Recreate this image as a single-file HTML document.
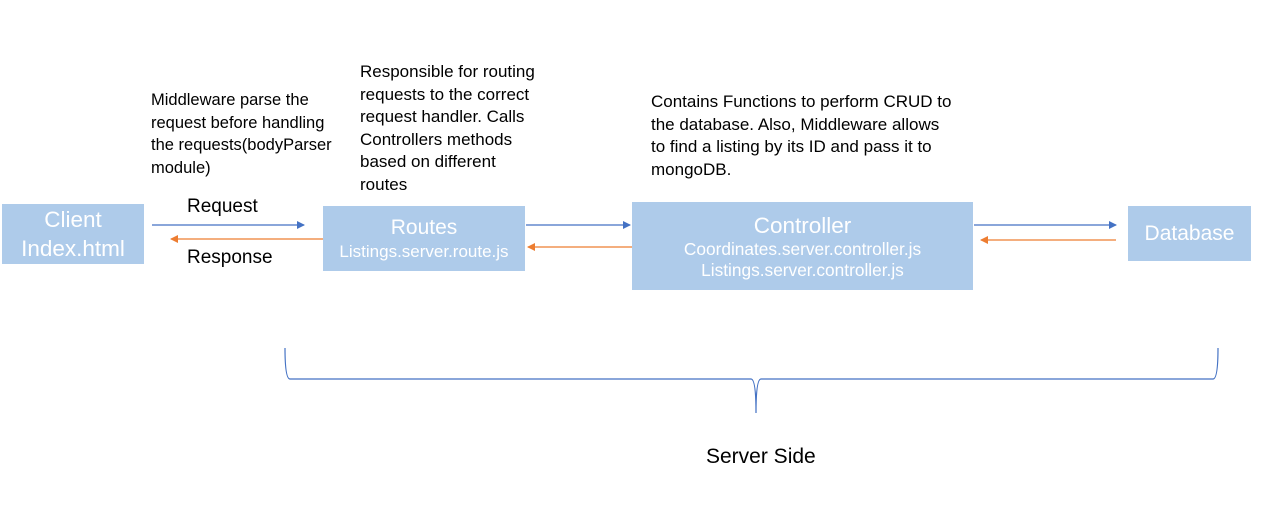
<!DOCTYPE html>
<html><head><meta charset="utf-8"><style>
body{margin:0;width:1271px;height:530px;background:#fff;position:relative;overflow:hidden;font-family:"Liberation Sans",Calibri,sans-serif}
.b{position:absolute;background:#aecbea;color:#fff;text-align:center;display:flex;flex-direction:column;justify-content:center;white-space:nowrap}
.t{position:absolute;color:#000;font-size:17px;line-height:22.5px;white-space:nowrap}
svg{position:absolute;left:0;top:0}
</style></head><body>
<div class="b" style="left:2px;top:204px;width:142px;height:60px;font-size:22.5px;line-height:29px">Client<br>Index.html</div>
<div class="b" style="left:323px;top:206px;width:202px;height:65px;"><div style="font-size:21px;line-height:26px">Routes</div><div style="font-size:17px;line-height:22px">Listings.server.route.js</div></div>
<div class="b" style="left:632px;top:202px;width:341px;height:88px;"><div style="font-size:22.5px;line-height:27px">Controller</div><div style="font-size:17.3px;line-height:21px">Coordinates.server.controller.js<br>Listings.server.controller.js</div></div>
<div class="b" style="left:1128px;top:206px;width:123px;height:55px;font-size:21px">Database</div>
<div class="t" style="left:151px;top:89px;font-size:16.5px">Middleware parse the<br>request before handling<br>the requests(bodyParser<br>module)</div>
<div class="t" style="left:360px;top:61px;font-size:17px">Responsible for routing<br>requests to the correct<br>request handler. Calls<br>Controllers methods<br>based on different<br>routes</div>
<div class="t" style="left:651px;top:91px;font-size:17px">Contains Functions to perform CRUD to<br>the database. Also, Middleware allows<br>to find a listing by its ID and pass it to<br>mongoDB.</div>
<div class="t" style="left:187px;top:196px;font-size:19px">Request</div>
<div class="t" style="left:187px;top:247px;font-size:19px">Response</div>
<div class="t" style="left:706px;top:446px;font-size:21px">Server Side</div>
<svg width="1271" height="530">
<defs>
<marker id="bl" markerWidth="8" markerHeight="8" refX="7" refY="4" orient="auto" markerUnits="userSpaceOnUse"><path d="M0,0 L8,4 L0,8z" fill="#4472c4"/></marker>
<marker id="or" markerWidth="8" markerHeight="8" refX="7" refY="4" orient="auto" markerUnits="userSpaceOnUse"><path d="M0,0 L8,4 L0,8z" fill="#ed7d31"/></marker>
</defs>
<g stroke-width="1.2">
<line x1="152" y1="225" x2="304" y2="225" stroke="#4472c4" marker-end="url(#bl)"/>
<line x1="323" y1="239" x2="171" y2="239" stroke="#ed7d31" marker-end="url(#or)"/>
<line x1="526" y1="225" x2="630" y2="225" stroke="#4472c4" marker-end="url(#bl)"/>
<line x1="632" y1="247" x2="528" y2="247" stroke="#ed7d31" marker-end="url(#or)"/>
<line x1="974" y1="225" x2="1116" y2="225" stroke="#4472c4" marker-end="url(#bl)"/>
<line x1="1116" y1="240" x2="981" y2="240" stroke="#ed7d31" marker-end="url(#or)"/>
</g>
<path d="M285,348 Q285,379 290,379 L751,379 Q756,379 756,413 Q756,379 761,379 L1213,379 Q1218,379 1218,348" fill="none" stroke="#4472c4" stroke-width="1.2"/>
</svg>
</body></html>
